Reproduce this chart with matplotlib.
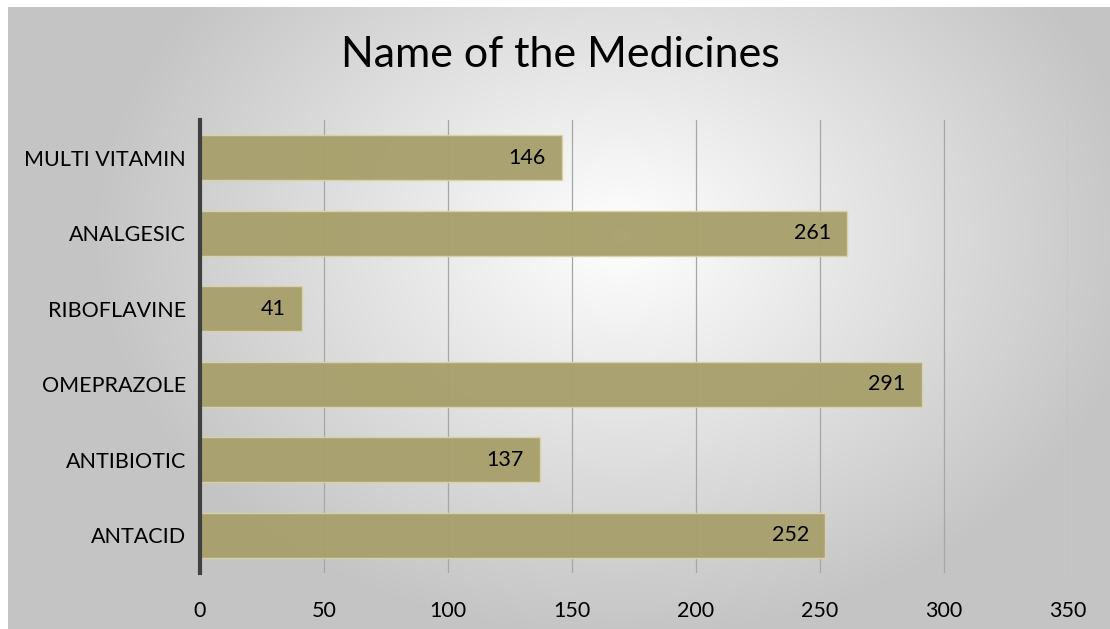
import numpy as np
import matplotlib.pyplot as plt

# Data
medicines = ['ANTACID', 'ANTIBIOTIC', 'OMEPRAZOLE', 'RIBOFLAVINE', 'ANALGESIC', 'MULTI VITAMIN']
counts = [252, 137, 291, 41, 261, 146]
xticks = [0, 50, 100, 150, 200, 250, 300, 350]

plt.rcParams['font.family'] = ['Lato', 'DejaVu Sans']

W, H = 1110, 629
fig = plt.figure(figsize=(W / 100, H / 100), dpi=100)
fig.patch.set_facecolor('white')

# Radial gradient background of the chart area
bg = fig.add_axes([8 / W, 0, 1 - 8 / W, 1 - 7 / H])
yy, xx = np.mgrid[0:300, 0:540]
cx, cy = 300, 110
r = np.sqrt(((xx - cx) / 540) ** 2 + ((yy - cy) / 300) ** 2 * 0.55)
val = np.clip(1.0 - 0.48 * r, 0.77, 1.0)
bg.imshow(np.dstack([val, val, val]), aspect='auto', extent=[0, 1, 0, 1])
bg.set_axis_off()

# Plot area
ax = fig.add_axes([200 / W, (H - 573) / H, (1068 - 200) / W, (573 - 120) / H])
ax.patch.set_alpha(0)
y = np.arange(len(medicines))
bars = ax.barh(y, counts, height=0.6, color='#a8a06c', edgecolor='#d8d3aa', linewidth=1.0, zorder=3, alpha=0.97)

# value labels inside the bar ends
for b, v in zip(bars, counts):
    ax.text(v - 6.5, b.get_y() + b.get_height() / 2, str(v), ha='right', va='center', fontsize=15.5, color='black', zorder=4)

ax.set_xlim(0, 350)
ax.set_ylim(-0.5, len(medicines) - 0.5)
ax.set_xticks(xticks)
ax.set_yticks(y)
ax.set_yticklabels(medicines, fontsize=15.5)
ax.tick_params(axis='x', labelsize=15.5, length=0, pad=20)
ax.tick_params(axis='y', length=0, pad=10)
ax.grid(axis='x', color='#a6a6a6', linewidth=0.9, zorder=1)
for s in ['top', 'right', 'bottom']:
    ax.spines[s].set_visible(False)
ax.spines['left'].set_color('#404040')
ax.spines['left'].set_linewidth(3)
ax.spines['left'].set_zorder(5)

fig.text(560 / W, 1 - 55 / H, 'Name of the Medicines', ha='center', va='center', fontsize=31, color='black')

fig.savefig('out.png', dpi=100)
